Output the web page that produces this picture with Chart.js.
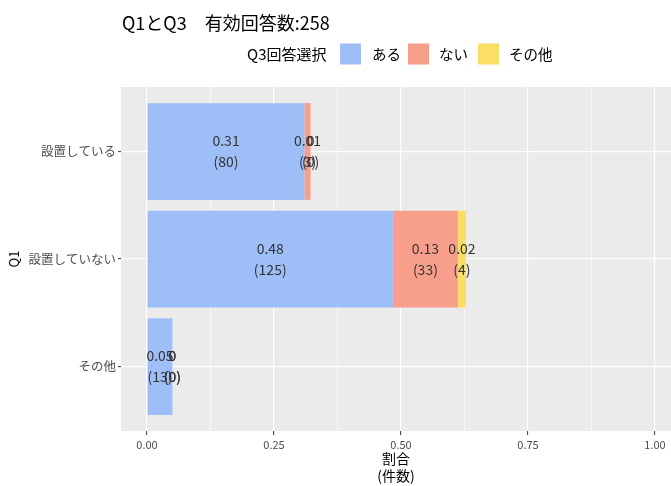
<!DOCTYPE html>
<html>
<head>
<meta charset="utf-8">
<script src="https://cdn.jsdelivr.net/npm/chart.js@4/dist/chart.umd.min.js"></script>
<style>
  html, body { margin: 0; padding: 0; background: #ffffff; }
  #wrap { width: 671px; height: 486px; }
</style>
</head>
<body>
<div id="wrap"><canvas id="c" width="671" height="486"></canvas></div>
<script>
// ---- data ----
const chartTitle = 'Q1とQ3\u3000有効回答数:258';
const legendTitle = 'Q3回答選択';
const categories = ['設置している', '設置していない', 'その他'];
const seriesNames = ['ある', 'ない', 'その他'];
const shareAru   = [0.310, 0.484, 0.050];
const shareNai   = [0.012, 0.128, 0.000];
const shareOther = [0.000, 0.016, 0.000];
const countAru   = [80, 125, 13];
const countNai   = [3, 33, 0];
const countOther = [0, 4, 0];
const xTickValues = [0, 0.125, 0.25, 0.375, 0.5, 0.625, 0.75, 0.875, 1.0];
const xTickLabels = ['0.00', '', '0.25', '', '0.50', '', '0.75', '', '1.00'];
const xTitle = ['割合', '(件数)'];
const yTitle = 'Q1';

const seriesColors = ['rgb(158,190,247)', 'rgb(248,159,140)', 'rgb(250,223,100)'];
const FONT = "'Noto Sans CJK JP', 'Noto Sans', sans-serif";

// legend layout (style only)
const legendKeyX = [340, 408, 478];
const legendLabelX = [372, 439, 509];

const shares = [shareAru, shareNai, shareOther];
const counts = [countAru, countNai, countOther];

const datasets = seriesNames.map((name, s) => ({
  label: name,
  data: shares[s].map((v, i) => ({ x: v, y: i + 1 })),
  counts: counts[s],
  backgroundColor: seriesColors[s],
  borderWidth: 0,
  barPercentage: 0.9,
  categoryPercentage: 1.0
}));

const panelPlugin = {
  id: 'panel',
  beforeDraw(chart) {
    const a = chart.chartArea, ctx = chart.ctx;
    ctx.save();
    ctx.fillStyle = '#EBEBEB';
    ctx.fillRect(a.left, a.top, a.right - a.left, a.bottom - a.top);
    ctx.restore();
  }
};

function fmtShare(v) {
  return String(Math.round(v * 100) / 100);
}

const labelPlugin = {
  id: 'segLabels',
  afterDatasetsDraw(chart) {
    const ctx = chart.ctx;
    ctx.save();
    ctx.font = '14px ' + FONT;
    ctx.fillStyle = '#333333';
    ctx.textAlign = 'center';
    ctx.textBaseline = 'middle';
    chart.data.datasets.forEach((ds, di) => {
      const meta = chart.getDatasetMeta(di);
      meta.data.forEach((el, i) => {
        const cx = (el.x + el.base) / 2;
        const cy = el.y;
        ctx.fillText(fmtShare(ds.data[i].x), cx, cy - 10.5);
        ctx.fillText('(' + ds.counts[i] + ')', cx, cy + 10.5);
      });
    });
    ctx.restore();
  }
};

const headerPlugin = {
  id: 'header',
  afterDraw(chart) {
    const ctx = chart.ctx;
    ctx.save();
    ctx.fillStyle = '#000000';
    ctx.textBaseline = 'middle';
    ctx.textAlign = 'left';
    ctx.font = '18px ' + FONT;
    ctx.fillText(chartTitle, 122, 23);

    // legend
    const cy = 54;
    ctx.font = '15px ' + FONT;
    ctx.fillText(legendTitle, 247, cy);
    ctx.font = '14.5px ' + FONT;
    seriesNames.forEach((name, s) => {
      ctx.fillStyle = seriesColors[s];
      ctx.fillRect(legendKeyX[s], cy - 10.5, 21, 21);
      ctx.fillStyle = '#000000';
      ctx.fillText(name, legendLabelX[s], cy);
    });
    ctx.restore();
  }
};

new Chart(document.getElementById('c'), {
  type: 'bar',
  data: { datasets },
  plugins: [panelPlugin, labelPlugin, headerPlugin],
  options: {
    indexAxis: 'y',
    responsive: false,
    animation: false,
    events: [],
    layout: { padding: { top: 87, right: 0, bottom: 0, left: 0 } },
    plugins: {
      legend: { display: false },
      title: { display: false },
      tooltip: { enabled: false }
    },
    scales: {
      x: {
        type: 'linear',
        stacked: true,
        min: -0.0512,
        max: 1.0315,
        afterBuildTicks(scale) {
          scale.ticks = xTickValues.map(v => ({ value: v }));
        },
        afterFit(scale) { scale.height = 55; },
        ticks: {
          autoSkip: false,
          maxRotation: 0,
          padding: 3,
          color: '#4D4D4D',
          font: { family: FONT, size: 11 },
          callback(value, index) { return xTickLabels[index]; }
        },
        grid: {
          color: '#FFFFFF',
          lineWidth: ctx => (ctx.index % 2 === 0 ? 1.2 : 0.6),
          drawTicks: true,
          tickLength: 4,
          tickWidth: 1,
          tickColor: ctx => (ctx.index % 2 === 0 ? '#333333' : 'rgba(0,0,0,0)')
        },
        border: { display: false },
        title: {
          display: true,
          text: xTitle,
          color: '#000000',
          font: { family: FONT, size: 14, lineHeight: 1.25 },
          padding: { top: 0, bottom: 1.25 }
        }
      },
      y: {
        type: 'linear',
        stacked: true,
        reverse: true,
        offset: false,
        min: 0.4,
        max: 3.6,
        afterBuildTicks(scale) {
          scale.ticks = categories.map((c, i) => ({ value: i + 1 }));
        },
        afterFit(scale) { scale.width = 121; },
        ticks: {
          autoSkip: false,
          padding: 2,
          color: '#4D4D4D',
          font: { family: FONT, size: 12.5 },
          callback(value) { return categories[Math.round(value) - 1]; }
        },
        grid: {
          offset: false,
          color: '#FFFFFF',
          lineWidth: 1.2,
          drawTicks: true,
          tickLength: 3,
          tickWidth: 1,
          tickColor: '#333333'
        },
        border: { display: false },
        title: {
          display: true,
          text: yTitle,
          color: '#000000',
          font: { family: FONT, size: 13, lineHeight: 1.2 },
          padding: { top: 6, bottom: 0 }
        }
      }
    }
  }
});
</script>
</body>
</html>
